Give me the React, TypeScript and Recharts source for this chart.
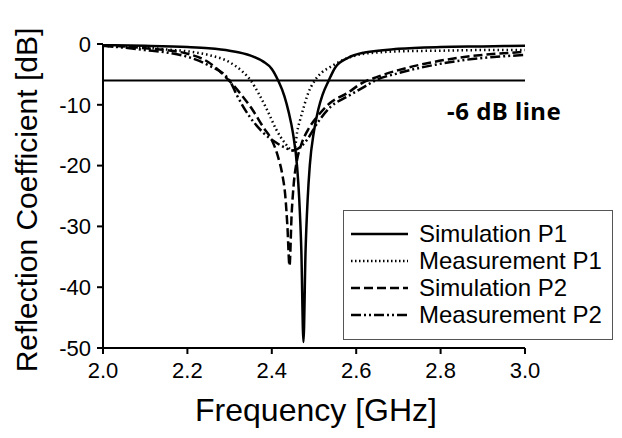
import { LineChart, Line, XAxis, YAxis, ReferenceLine } from 'recharts';

// Simulation P1 (solid)
const simP1Freq = [2.0, 2.1, 2.2, 2.25, 2.3, 2.35, 2.38, 2.4, 2.415, 2.43, 2.44, 2.45, 2.46, 2.465, 2.47, 2.475, 2.48, 2.485, 2.49, 2.5, 2.51, 2.52, 2.535, 2.55, 2.58, 2.62, 2.7, 2.8, 2.9, 3.0];
const simP1Db = [-0.2, -0.3, -0.5, -0.7, -1.1, -1.9, -2.9, -4.1, -6.0, -8.6, -11.2, -14.6, -20.2, -25.5, -34, -49, -34, -25.5, -20, -14.3, -10.8, -8.4, -6.0, -3.9, -2.3, -1.4, -0.8, -0.5, -0.4, -0.3];

// Measurement P1 (dotted)
const measP1Freq = [2.0, 2.05, 2.1, 2.15, 2.2, 2.25, 2.3, 2.33, 2.35, 2.37, 2.39, 2.41, 2.43, 2.45, 2.455, 2.46, 2.467, 2.474, 2.485, 2.502, 2.52, 2.538, 2.57, 2.61, 2.65, 2.7, 2.8, 2.9, 3.0];
const measP1Db = [-0.3, -0.5, -0.6, -0.9, -1.2, -1.8, -3.0, -4.5, -6.0, -8.3, -11.0, -14.0, -16.2, -17.5, -17.0, -14.5, -12.5, -10.8, -8.3, -6.0, -4.6, -3.8, -2.6, -1.7, -1.4, -1.2, -1.1, -1.0, -1.0];

// Simulation P2 (dashed)
const simP2Freq = [2.0, 2.05, 2.1, 2.15, 2.2, 2.25, 2.29, 2.325, 2.355, 2.38, 2.4, 2.415, 2.425, 2.432, 2.437, 2.442, 2.447, 2.452, 2.46, 2.47, 2.485, 2.507, 2.538, 2.578, 2.617, 2.65, 2.7, 2.78, 2.86, 3.0];
const simP2Db = [-0.2, -0.4, -0.7, -1.0, -1.6, -3.0, -5.4, -8.1, -10.9, -13.7, -15.8, -18.6, -21.5, -25, -30, -36.5, -28, -23, -19, -16.5, -14.2, -12, -9.7, -8.1, -6.3, -5.4, -4.3, -3.0, -2.1, -1.3];

// Measurement P2 (dash-dot)
const measP2Freq = [2.0, 2.05, 2.1, 2.15, 2.2, 2.25, 2.3, 2.317, 2.348, 2.38, 2.41, 2.43, 2.45, 2.46, 2.47, 2.483, 2.51, 2.54, 2.58, 2.62, 2.645, 2.7, 2.78, 2.86, 3.0];
const measP2Db = [-0.3, -0.6, -1.0, -1.4, -2.1, -3.5, -6.0, -8.4, -12.0, -14.6, -16.2, -17.0, -17.5, -17.3, -16.8, -15.8, -12.8, -10.3, -8.6, -7.0, -6.0, -4.8, -3.5, -2.6, -1.8];

const xTicks = [2.0, 2.2, 2.4, 2.6, 2.8, 3.0];
const yTicks = [0, -10, -20, -30, -40, -50];

const toPoints = (f: number[], v: number[]) => f.map((x, i) => ({ f: x, v: v[i] }));

const series = [
  { name: 'Simulation P1', data: toPoints(simP1Freq, simP1Db), dash: undefined as string | undefined, legendDash: undefined as string | undefined },
  { name: 'Measurement P1', data: toPoints(measP1Freq, measP1Db), dash: '1.5 3', legendDash: '1.5 2.5' },
  { name: 'Simulation P2', data: toPoints(simP2Freq, simP2Db), dash: '9 4', legendDash: '9 4' },
  { name: 'Measurement P2', data: toPoints(measP2Freq, measP2Db), dash: '10 3 2 3 2 3', legendDash: '10 3 2 3 2 3' },
];

const font = 'Arial, "Liberation Sans", sans-serif';

export default function App() {
  return (
    <div style={{ position: 'absolute', left: 0, top: 0, width: 622, height: 438, background: '#fff', fontFamily: font }}>
      <LineChart width={622} height={438} margin={{ top: 44, right: 97, bottom: 0, left: 0 }}>
        <XAxis
          dataKey="f"
          type="number"
          domain={[2, 3]}
          ticks={xTicks}
          tickFormatter={(v: number) => v.toFixed(1)}
          height={90}
          allowDataOverflow
          axisLine={{ stroke: '#000', strokeWidth: 2 }}
          tickLine={{ stroke: '#000', strokeWidth: 2 }}
          tickSize={6}
          tickMargin={8}
          tick={{ fill: '#000', fontSize: 22, fontFamily: font }}
        />
        <YAxis
          type="number"
          domain={[-50, 0]}
          ticks={yTicks}
          width={103}
          allowDataOverflow
          axisLine={{ stroke: '#000', strokeWidth: 2 }}
          tickLine={{ stroke: '#000', strokeWidth: 2 }}
          tickSize={6}
          tickMargin={6}
          tick={{ fill: '#000', fontSize: 22, fontFamily: font }}
        />
        <ReferenceLine y={-6} stroke="#000" strokeWidth={2} />
        {series.map((s) => (
          <Line
            key={s.name}
            data={s.data}
            dataKey="v"
            type="monotone"
            stroke="#000"
            strokeWidth={2.5}
            strokeDasharray={s.dash}
            dot={false}
            isAnimationActive={false}
          />
        ))}
      </LineChart>

      {/* axis titles */}
      <div style={{ position: 'absolute', left: 27, top: 200, transform: 'translate(-50%, -50%) rotate(-90deg)', whiteSpace: 'nowrap', fontSize: 30 }}>
        Reflection Coefficient [dB]
      </div>
      <div style={{ position: 'absolute', left: 316, top: 410, transform: 'translate(-50%, -50%)', whiteSpace: 'nowrap', fontSize: 32 }}>
        Frequency [GHz]
      </div>

      <div style={{ position: 'absolute', left: 447, top: 110, transform: 'translateY(-50%)', whiteSpace: 'nowrap', fontSize: 24, letterSpacing: 0.5, fontWeight: 700, fontFamily: '"Noto Sans", sans-serif' }}>
        -6 dB line
      </div>

      {/* legend */}
      <div style={{ position: 'absolute', left: 343, top: 210, width: 268, height: 128, background: '#fff', border: '1px solid #555' }}>
        {series.map((s, i) => (
          <div key={s.name} style={{ position: 'absolute', left: 6, top: 9 + i * 27, height: 27, display: 'flex', alignItems: 'center' }}>
            <svg width={60} height={10}>
              <line x1={1} y1={5} x2={58} y2={5} stroke="#000" strokeWidth={2.5} strokeDasharray={s.legendDash} />
            </svg>
            <span style={{ marginLeft: 9, fontSize: 24, whiteSpace: 'nowrap' }}>{s.name}</span>
          </div>
        ))}
      </div>
    </div>
  );
}
